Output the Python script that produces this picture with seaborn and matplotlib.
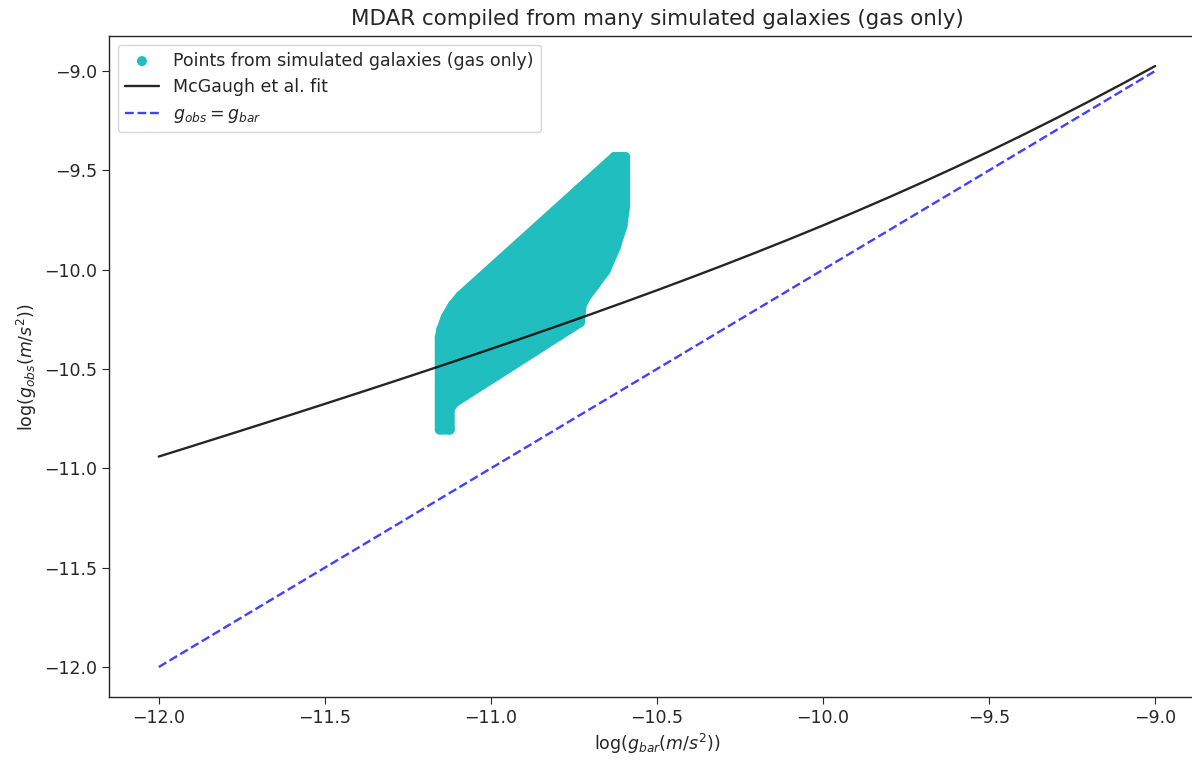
import numpy as np
import pandas as pd
import matplotlib
matplotlib.use("Agg")
import matplotlib.pyplot as plt
import seaborn as sns

# ---- data ----
# McGaugh et al. fit (log g_bar -> log g_obs)
fit_x = [-12.0, -11.9, -11.8, -11.7, -11.6, -11.5, -11.4, -11.3, -11.2, -11.1,
         -11.0, -10.9, -10.8, -10.7, -10.6, -10.5, -10.4, -10.3, -10.2, -10.1,
         -10.0, -9.9, -9.8, -9.7, -9.6, -9.5, -9.4, -9.3, -9.2, -9.1, -9.0]
fit_y = [-10.9407, -10.8884, -10.8357, -10.7827, -10.7294, -10.6756, -10.6214,
         -10.5668, -10.5116, -10.4557, -10.3992, -10.3420, -10.2839, -10.2249,
         -10.1648, -10.1037, -10.0413, -9.9776, -9.9124, -9.8457, -9.7772,
         -9.7068, -9.6345, -9.5601, -9.4835, -9.4046, -9.3233, -9.2397, -9.1538,
         -9.0655, -8.9751]

# g_obs = g_bar reference line
one_x = [-12.0, -9.0]
one_y = [-12.0, -9.0]

# outline of the cloud of simulated-galaxy points (marker centres)
blob_x = [-11.154, -11.154, -11.149, -11.136, -11.115, -11.092, -10.628, -10.596,
          -10.596, -10.604, -10.625, -10.655, -10.686, -10.715, -10.727, -10.732,
          -11.110, -11.124, -11.124]
blob_y = [-10.805, -10.34, -10.30, -10.24, -10.18, -10.133, -9.433, -9.433,
          -9.68, -9.78, -9.89, -10.005, -10.075, -10.14, -10.18, -10.265,
          -10.668, -10.70, -10.805]

title = "MDAR compiled from many simulated galaxies (gas only)"
xlabel = r"$\log(g_{bar}(m/s^2))$"
ylabel = r"$\log(g_{obs}(m/s^2))$"

# ---- plotting ----
sns.set_style("ticks")
plt.rcParams["font.family"] = ["DejaVu Sans"]
plt.rcParams["mathtext.fontset"] = "dejavusans"

fig = plt.figure(figsize=(11.92, 7.63), dpi=100)
ax = fig.add_axes([0.0914, 0.0865, 0.9195, 0.8663])

cyan = "#20bebe"
marker_d_pt = 7.2

ax.fill(blob_x, blob_y, facecolor=cyan, edgecolor=cyan,
        linewidth=marker_d_pt, joinstyle="round", zorder=2)
blob_df = pd.DataFrame({"x": blob_x, "y": blob_y})
sns.scatterplot(data=blob_df, x="x", y="y", ax=ax, color=cyan,
                s=marker_d_pt ** 2, edgecolor="none", linewidth=0,
                label="Points from simulated galaxies (gas only)", zorder=2)

fit_df = pd.DataFrame({"x": fit_x, "y": fit_y})
sns.lineplot(data=fit_df, x="x", y="y", ax=ax, color="k", alpha=0.85,
             linewidth=1.7, label="McGaugh et al. fit", zorder=3)

one_df = pd.DataFrame({"x": one_x, "y": one_y})
sns.lineplot(data=one_df, x="x", y="y", ax=ax, color="b", alpha=0.75,
             linewidth=1.7, linestyle="--", label=r"$g_{obs} = g_{bar}$", zorder=3)

ax.set_xlim(-12.15, -8.85)
ax.set_ylim(-12.151, -8.824)
ax.set_xticks([-12.0, -11.5, -11.0, -10.5, -10.0, -9.5, -9.0])
ax.set_yticks([-12.0, -11.5, -11.0, -10.5, -10.0, -9.5, -9.0])
ax.tick_params(labelsize=12.5, colors="#262626", length=5)
for sp in ax.spines.values():
    sp.set_color("#262626")
    sp.set_linewidth(1.0)
ax.spines["right"].set_visible(False)

ax.set_xlabel(xlabel, fontsize=12.5)
ax.set_ylabel(ylabel, fontsize=12.5)
ax.set_title(title, fontsize=15.4, pad=8)

leg = ax.legend(loc="upper left", fontsize=12.5, frameon=True)
leg.get_frame().set_edgecolor("#cccccc")

fig.savefig("out.png", dpi=100)
